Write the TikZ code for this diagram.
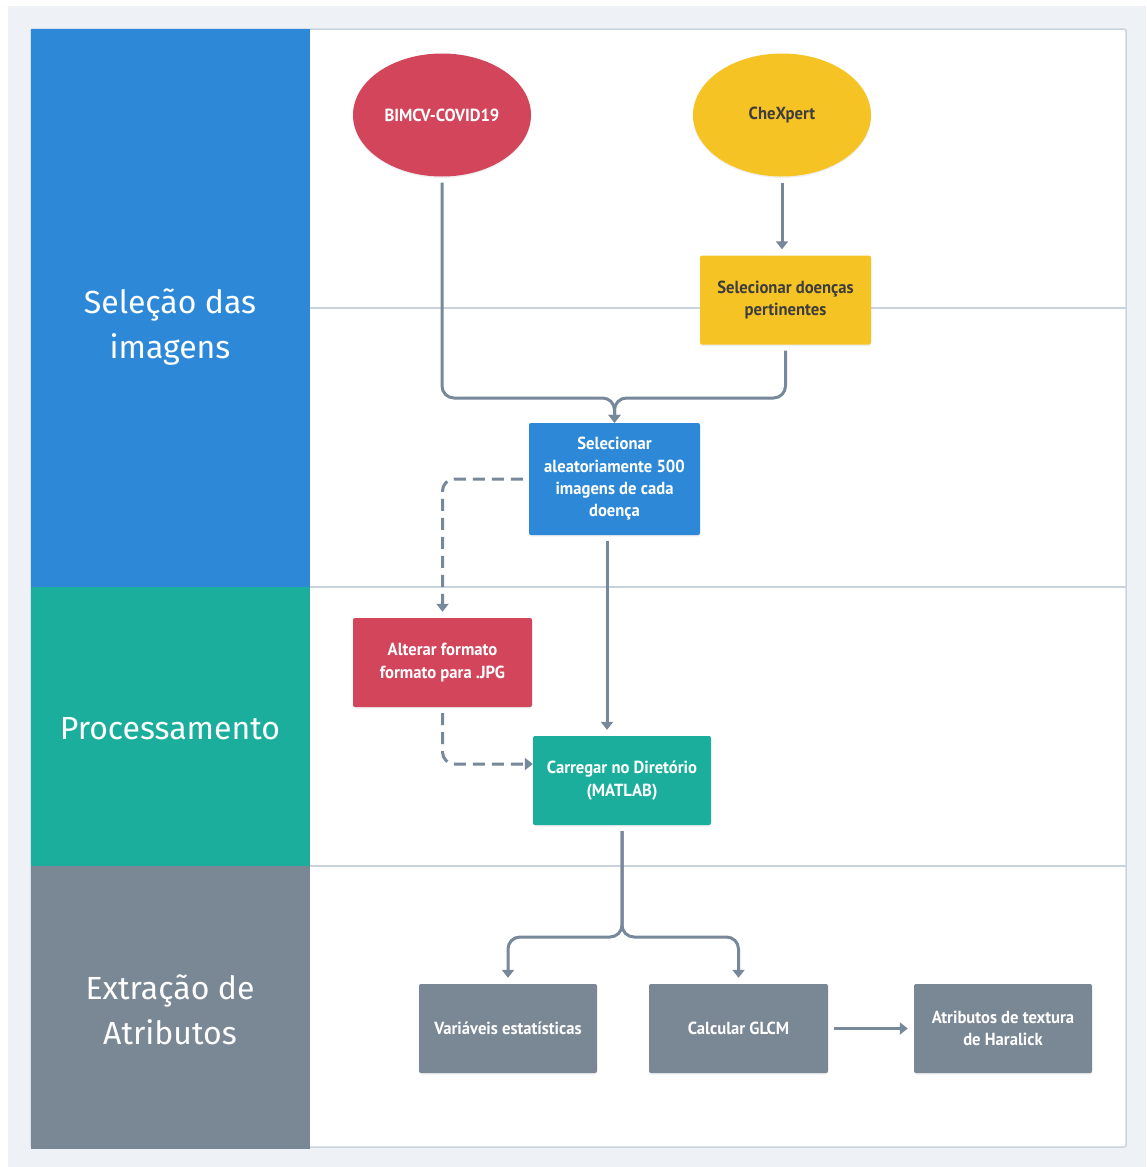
\documentclass[tikz,border=0pt]{standalone}
\usepackage{fontspec}
\setmainfont{PT Sans}
\newfontfamily\boxfont[FakeStretch=0.95]{PT Sans}
\newfontfamily\lanefont{Fira Sans}
\usetikzlibrary{shapes.geometric,arrows.meta,shadows,calc}
\definecolor{bgc}{HTML}{EEF2F6}
\definecolor{linec}{HTML}{C9D3DE}
\definecolor{blu}{HTML}{2D88D8}
\definecolor{redc}{HTML}{D3455B}
\definecolor{yel}{HTML}{F6C325}
\definecolor{tea}{HTML}{1BAE9C}
\definecolor{gra}{HTML}{7A8795}
\definecolor{arr}{HTML}{77889A}
\definecolor{txtd}{HTML}{3D3D3D}
\tikzset{
  lane/.style={align=center, text=white, font=\lanefont\fontsize{32}{45}\selectfont},
  box/.style={rectangle, rounded corners=2pt, minimum width=178pt, minimum height=89pt,
    inner sep=0pt, align=center, text=white,
    font=\boxfont\bfseries\fontsize{17.5}{22.3}\selectfont,
    drop shadow={opacity=0.12, shadow xshift=0pt, shadow yshift=-1.5pt}},
  ell/.style={ellipse, minimum width=178pt, minimum height=123pt, inner sep=0pt,
    align=center, font=\boxfont\bfseries\fontsize{17.5}{22.3}\selectfont,
    drop shadow={opacity=0.12, shadow xshift=0pt, shadow yshift=-1.5pt}},
  conn/.style={draw=arr, line width=3pt, rounded corners=12pt,
    -{Triangle[length=8pt,width=12pt]}, shorten <=6pt, shorten >=6pt},
  dconn/.style={conn, dash pattern=on 12pt off 7pt},
  divider/.style={draw=linec, line width=1.3pt}
}
\begin{document}
\begin{tikzpicture}[x=1pt,y=-1pt]
\useasboundingbox (0,0) rectangle (1146,1167);
\fill[bgc] (8,6) rectangle (1146,1167);
\draw[linec, line width=1.5pt, fill=white, rounded corners=2pt] (31,29) rectangle (1126,1147);
\draw[divider] (310,308) -- (1126,308);
\draw[divider] (310,587) -- (1126,587);
\draw[divider] (310,866) -- (1126,866);
% lanes
\fill[blu] (31,29) rectangle (310,587);
\fill[tea] (31,587) rectangle (310,866);
\fill[gra] (31,866) rectangle (310,1149);
\node[lane] (l1) at (170,327) {Seleção das\\imagens};
\node[lane] (l2) at (170,729) {Processamento};
\node[lane] (l3) at (170,1010) {Extração de\\Atributos};
% nodes
\node[ell, fill=redc, text=white] (bim) at (442,115) {BIMCV-COVID19};
\node[ell, fill=yel, text=txtd] (che) at (782,115) {CheXpert};
\node[box, fill=yel, text=txtd, minimum width=171pt] (doe) at (785.5,300) {Selecionar doenças\\pertinentes};
\node[box, fill=blu, minimum width=171pt, minimum height=112pt] (sel) at (614.5,479) {Selecionar\\aleatoriamente 500\\imagens de cada\\doença};
\node[box, fill=redc, minimum width=179pt] (alt) at (442.5,662.5) {Alterar formato\\formato para .JPG};
\node[box, fill=tea] (car) at (622,780.5) {Carregar no Diretório\\(MATLAB)};
\node[box, fill=gra] (var) at (508,1028.5) {Variáveis estatísticas};
\node[box, fill=gra, minimum width=179pt] (glcm) at (738.5,1028.5) {Calcular GLCM};
\node[box, fill=gra] (atr) at (1003,1028.5) {Atributos de textura\\de Haralick};
% connectors
\coordinate (m1) at (614.5,398);
\coordinate (m2) at (622,937);
\draw[conn] (che.south) -- (che.south |- doe.north);
\draw[conn, shorten >=0pt] (bim.south) |- (m1) -- (sel.north);
\draw[conn, shorten >=0pt] (doe.south) |- (m1) -- (sel.north);
\draw[dconn] (sel.west) -| (alt.north);
\draw[dconn, shorten >=0pt] (alt.south) |- ([yshift=16.5pt]car.west);
\draw[conn] ([xshift=-7.5pt]sel.south) -- ([xshift=-15pt]car.north);
\draw[conn] (car.south) -- (m2) -| (var.north);
\draw[conn] (car.south) -- (m2) -| (glcm.north);
\draw[conn] (glcm.east) -- (atr.west);
\end{tikzpicture}
\end{document}
